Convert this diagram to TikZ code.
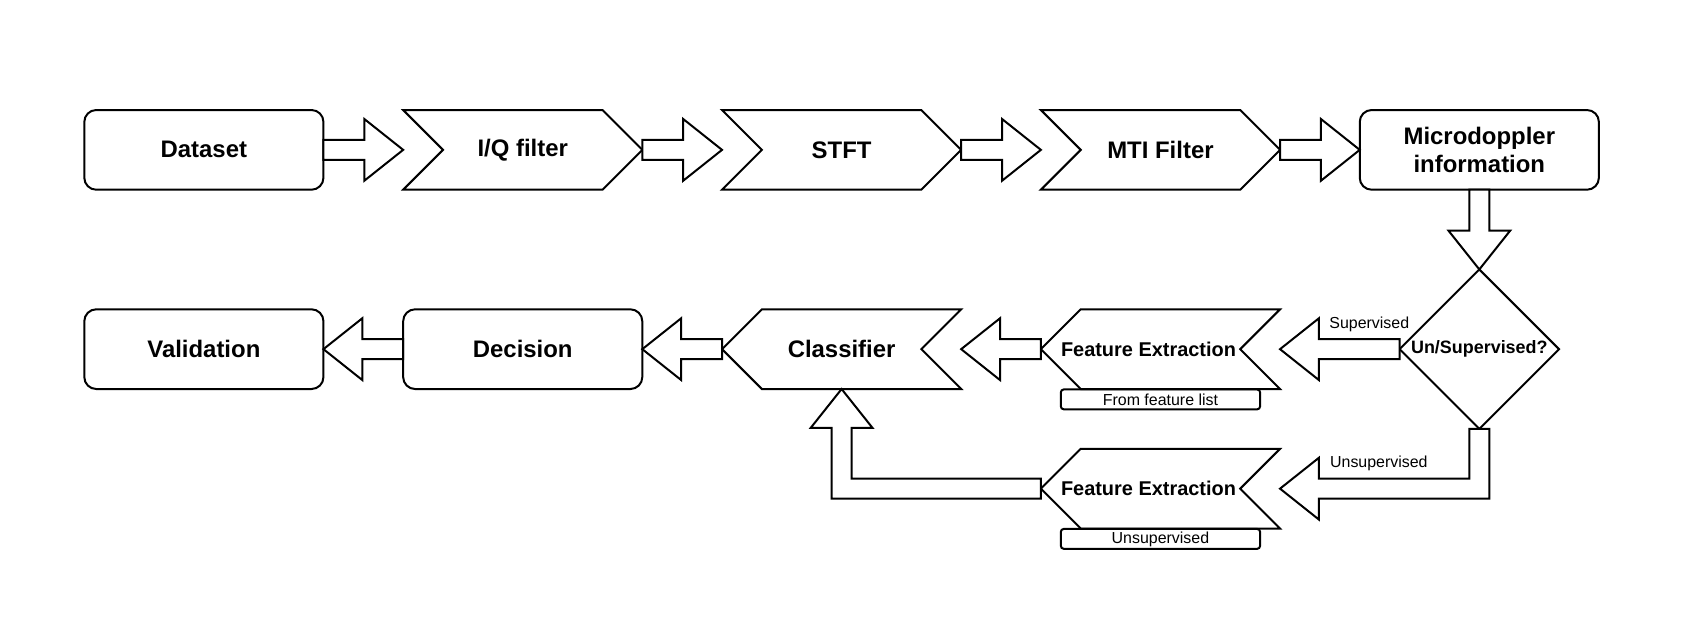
\documentclass[tikz,border=0pt]{standalone}
\usepackage{fontspec}
\setmainfont{Liberation Sans}
\usetikzlibrary{shapes.geometric,calc}
\tikzset{box/.style={draw, line width=1pt, rounded corners=6pt, minimum width=120pt, minimum height=40pt, inner sep=0pt, outer sep=0pt, align=center, font=\bfseries\fontsize{12}{14.4}\selectfont}}
\tikzset{stepbox/.style={minimum width=120pt, minimum height=40pt, inner sep=0pt, outer sep=0pt, align=center, font=\bfseries\fontsize{12}{14.4}\selectfont}}
\tikzset{outline/.style={draw, line width=1pt}}
\tikzset{flex/.style={draw, line width=1pt, fill=white}}
\tikzset{tag/.style={draw, line width=1pt, rounded corners=1.5pt, minimum width=100pt, minimum height=10pt, inner sep=0pt, outer sep=0pt, font=\fontsize{8}{9.6}\selectfont}}
\tikzset{query/.style={diamond, draw, line width=1pt, minimum width=80pt, minimum height=80pt, inner sep=0pt, outer sep=0pt, font=\bfseries\fontsize{9}{10.8}\selectfont}}
\tikzset{note/.style={inner sep=0pt, font=\fontsize{8}{9.6}\selectfont}}
\tikzset{fename/.style={xshift=-6pt, font=\bfseries\fontsize{10}{12}\selectfont}}

% chevron outlines round a stepbox
\newcommand{\chevright}[1]{\draw[outline] (#1.north west) -- ([xshift=-20pt]#1.north east) -- (#1.east) -- ([xshift=-20pt]#1.south east) -- (#1.south west) -- ([xshift=20pt]#1.west) -- cycle;}
\newcommand{\chevleft}[1]{\draw[outline] (#1.west) -- ([xshift=20pt]#1.north west) -- (#1.north east) -- ([xshift=-20pt]#1.east) -- (#1.south east) -- ([xshift=20pt]#1.south west) -- cycle;}

% block arrows
\newcommand{\hflex}[2]{\draw[flex] let \p1=(#1), \p2=(#2), \p3=($(#2)!19.5pt!(#1)$) in
    (\x1,\y1+5pt) -- (\x3,\y1+5pt) -- (\x3,\y1+15.5pt) -- (\p2) -- (\x3,\y1-15.5pt) -- (\x3,\y1-5pt) -- (\x1,\y1-5pt) -- cycle;}
\newcommand{\vflex}[2]{\draw[flex] let \p1=(#1), \p2=(#2), \p3=($(#2)!19.5pt!(#1)$) in
    (\x1+5pt,\y1) -- (\x1+5pt,\y3) -- (\x1+15.5pt,\y3) -- (\p2) -- (\x1-15.5pt,\y3) -- (\x1-5pt,\y3) -- (\x1-5pt,\y1) -- cycle;}

\begin{document}
\begin{tikzpicture}[x=1pt, y=-1pt]
    \useasboundingbox (-42.3,-55.2) rectangle (801.2,263.9);
    \fill[white] (-42.3,-55.2) rectangle (801.2,263.9);

    \node (ds) at (60,20) [box] {Dataset};
    \node (iq) at (220,20) [stepbox] {I/Q filter};
    \node (stft) at (380,20) [stepbox] {STFT};
    \node (mti) at (540,20) [stepbox] {MTI Filter};
    \node (md) at (700,20) [box] {Microdoppler\\information};

    \node (q) at (700,120) [query] {Un/Supervised?};
    \node (fe1) at (540,120) [stepbox, label={[fename]center:Feature Extraction}] {};
    \node (cls) at (380,120) [stepbox] {Classifier};
    \node (dcs) at (220,120) [box] {Decision};
    \node (val) at (60,120) [box] {Validation};
    \node (fe2) at (540,190) [stepbox, label={[fename]center:Feature Extraction}] {};

    \node (tag1) at (540,145.2) [tag] {From feature list};
    \node (tag2) at (540,215.2) [tag] {\raisebox{-0.5pt}{Unsupervised}};

    \chevright{iq}
    \chevright{stft}
    \chevright{mti}
    \chevleft{cls}
    \chevleft{fe1}
    \chevleft{fe2}

    \hflex{ds.east}{iq.west}
    \hflex{iq.east}{stft.west}
    \hflex{stft.east}{mti.west}
    \hflex{mti.east}{md.west}
    \vflex{md.south}{q.north}
    \hflex{q.west}{fe1.east}
    \hflex{fe1.west}{cls.east}
    \hflex{cls.west}{dcs.east}
    \hflex{dcs.west}{val.east}

    % unsupervised branch
    \draw[flex] let \p1=(q.south), \p2=(fe2.east) in
        (\x1-5pt,\y1) -- (\x1-5pt,\y2+5pt) -- (\x2+19.5pt,\y2+5pt) -- (\x2+19.5pt,\y2+15.5pt) -- (\p2)
        -- (\x2+19.5pt,\y2-15.5pt) -- (\x2+19.5pt,\y2-5pt) -- (\x1+5pt,\y2-5pt) -- (\x1+5pt,\y1) -- cycle;
    \draw[flex] let \p1=(fe2.west), \p2=(cls.south) in
        (\x1,\y1+5pt) -- (\x2+5pt,\y1+5pt) -- (\x2+5pt,\y2-19.5pt) -- (\x2+15.5pt,\y2-19.5pt) -- (\p2)
        -- (\x2-15.5pt,\y2-19.5pt) -- (\x2-5pt,\y2-19.5pt) -- (\x2-5pt,\y1-5pt) -- (\x1,\y1-5pt) -- cycle;

    \node (sup) at (644.8,107.8) [note] {Supervised};
    \node (unsup) at (649.6,177.3) [note] {Unsupervised};
\end{tikzpicture}
\end{document}
